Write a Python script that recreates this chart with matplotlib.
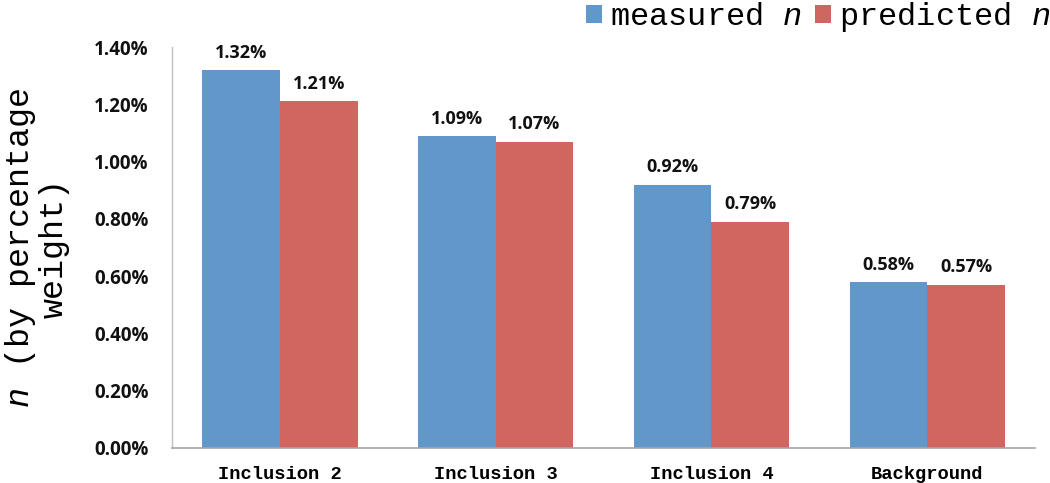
import numpy as np
import matplotlib
matplotlib.use("Agg")
import matplotlib.pyplot as plt
from matplotlib.ticker import FuncFormatter

# data (percent by weight)
categories = ["Inclusion 2", "Inclusion 3", "Inclusion 4", "Background"]
measured = [1.32, 1.09, 0.92, 0.58]
predicted = [1.21, 1.07, 0.79, 0.57]
yticks = [0.0, 0.2, 0.4, 0.6, 0.8, 1.0, 1.2, 1.4]

blue = "#6198cc"
red = "#d0665f"

plt.rcParams["mathtext.fontset"] = "custom"
plt.rcParams["mathtext.it"] = "Liberation Mono:italic"
plt.rcParams["mathtext.rm"] = "Liberation Mono"

fig = plt.figure(figsize=(10.5, 4.83), dpi=100)
ax = fig.add_axes([0.1638, 0.0725, 0.822, 0.830])

x = np.arange(len(categories))
w = 0.36
b1 = ax.bar(x - w / 2, measured, w, color=blue, label="measured $n$")
b2 = ax.bar(x + w / 2, predicted, w, color=red, label="predicted $n$")

# value labels above bars
for bars, vals in ((b1, measured), (b2, predicted)):
    for r, v in zip(bars, vals):
        ax.annotate("%.2f%%" % v, (r.get_x() + r.get_width() / 2, v),
                    xytext=(0, 6), textcoords="offset points",
                    ha="center", va="bottom", fontsize=13,
                    fontweight="bold", family="Open Sans", color="#111111")

ax.set_xlim(-0.5, 3.5)
ax.set_ylim(0, 1.4)
ax.set_yticks(yticks)
ax.yaxis.set_major_formatter(FuncFormatter(lambda v, p: "%.2f%%" % v))
ax.set_xticks(x)
ax.set_xticklabels(categories, family="Liberation Mono", fontweight="bold",
                   fontsize=13.5)
for t in ax.get_yticklabels():
    t.set_family("Open Sans")
    t.set_fontweight("bold")
    t.set_fontsize(13.5)
    t.set_color("#111111")

ax.tick_params(axis="y", length=0, pad=17)
ax.tick_params(axis="x", length=0, pad=13)

for s in ("top", "right"):
    ax.spines[s].set_visible(False)
ax.spines["left"].set_color("#bfbfbf")
ax.spines["bottom"].set_color("#a6a6a6")
ax.spines["left"].set_linewidth(1.0)
ax.spines["bottom"].set_linewidth(1.2)

ax.set_ylabel("$n$ (by percentage\nweight)", family="Liberation Mono",
              fontsize=24, linespacing=1.05)
ax.yaxis.set_label_coords(-0.118, 0.5)

leg = fig.legend(handles=[b1, b2], loc="upper right",
                 bbox_to_anchor=(1.0, 1.0), ncol=2, frameon=False,
                 prop={"family": "Liberation Mono", "size": 23},
                 handlelength=0.5, handleheight=0.5, handletextpad=0.25,
                 columnspacing=0.4, borderpad=0, borderaxespad=0)

fig.savefig("out.png", dpi=100)
